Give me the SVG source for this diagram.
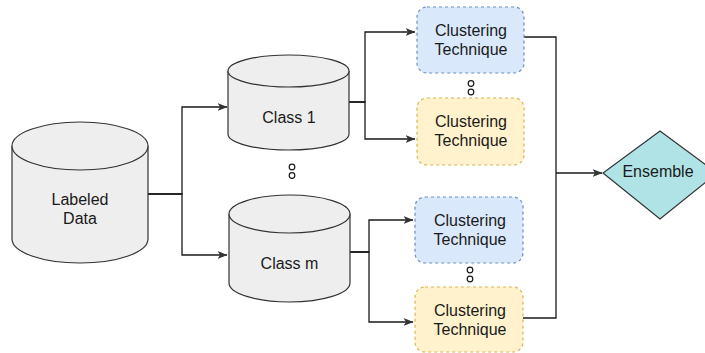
<svg xmlns="http://www.w3.org/2000/svg" width="705" height="353" viewBox="0 0 705 353">
  <style>
    .cyl { fill: #eeeeee; stroke: #333333; stroke-width: 1.2; }
    .blue { fill: #dae8fc; stroke: #6c8ebf; stroke-width: 1.2; stroke-dasharray: 3 3; }
    .yellow { fill: #fff2cc; stroke: #d6b656; stroke-width: 1.2; stroke-dasharray: 3 3; }
    .dia { fill: #b0e3e6; stroke: #333333; stroke-width: 1.2; }
    .lbl { font-family: "Liberation Sans", Arial, sans-serif; font-size: 16px; fill: #1a1a1a; text-anchor: middle; }
    .edge { fill: none; stroke: #1a1a1a; stroke-width: 1.3; }
    .dot { fill: #ffffff; stroke: #1a1a1a; stroke-width: 1.2; }
  </style>
  <defs>
    <marker id="arrow" viewBox="0 0 10 8" refX="9.5" refY="4" markerWidth="10" markerHeight="8" markerUnits="userSpaceOnUse" orient="auto">
      <path d="M0,0 L10,4 L0,8 L2.5,4 Z" fill="#333333"/>
    </marker>
  </defs>

  <rect width="705" height="353" fill="#ffffff"/>

  <!-- connectors -->
  <g id="edges">
    <path class="edge" d="M148,194 H182 V107 H227" marker-end="url(#arrow)"/>
    <path class="edge" d="M148,194 H182 V255 H227" marker-end="url(#arrow)"/>
    <path class="edge" d="M349,102 H365 V32 H415" marker-end="url(#arrow)"/>
    <path class="edge" d="M349,102 H365 V139 H415" marker-end="url(#arrow)"/>
    <path class="edge" d="M350,252 H369 V220 H413" marker-end="url(#arrow)"/>
    <path class="edge" d="M350,252 H369 V322 H413" marker-end="url(#arrow)"/>
    <path class="edge" d="M524,37 H556 V318 H523"/>
    <path class="edge" d="M556,173 H602" marker-end="url(#arrow)"/>
  </g>

  <!-- ellipsis markers -->
  <g id="dots">
    <circle class="dot" cx="292" cy="167" r="2.8"/>
    <circle class="dot" cx="292" cy="175.5" r="2.8"/>
    <circle class="dot" cx="471" cy="83.5" r="2.8"/>
    <circle class="dot" cx="471" cy="92" r="2.8"/>
    <circle class="dot" cx="470" cy="270" r="2.8"/>
    <circle class="dot" cx="470" cy="279" r="2.8"/>
  </g>

  <g id="labeled-data">
    <path class="cyl" d="M12,146 A68,24 0 0 1 148,146 V239 A68,24 0 0 1 12,239 Z"/>
    <path class="cyl" d="M12,146 A68,24 0 0 0 148,146" fill="none"/>
    <text class="lbl" x="80" y="205">Labeled</text>
    <text class="lbl" x="80" y="224">Data</text>
  </g>

  <g id="class-1">
    <path class="cyl" d="M228,71 A60.5,16 0 0 1 349,71 V134 A60.5,16 0 0 1 228,134 Z"/>
    <path class="cyl" d="M228,71 A60.5,16 0 0 0 349,71" fill="none"/>
    <text class="lbl" x="289" y="123">Class 1</text>
  </g>

  <g id="class-m">
    <path class="cyl" d="M229,214 A60.5,19 0 0 1 350,214 V283 A60.5,19 0 0 1 229,283 Z"/>
    <path class="cyl" d="M229,214 A60.5,19 0 0 0 350,214" fill="none"/>
    <text class="lbl" x="289.5" y="269">Class m</text>
  </g>

  <g id="cluster-1a">
    <rect class="blue" x="417" y="7" width="107" height="66" rx="10"/>
    <text class="lbl" x="471" y="36">Clustering</text>
    <text class="lbl" x="471" y="55">Technique</text>
  </g>

  <g id="cluster-1b">
    <rect class="yellow" x="417" y="98" width="107" height="67" rx="10"/>
    <text class="lbl" x="471" y="127">Clustering</text>
    <text class="lbl" x="471" y="146">Technique</text>
  </g>

  <g id="cluster-ma">
    <rect class="blue" x="415" y="197" width="108" height="66" rx="10"/>
    <text class="lbl" x="470" y="226">Clustering</text>
    <text class="lbl" x="470" y="245">Technique</text>
  </g>

  <g id="cluster-mb">
    <rect class="yellow" x="415" y="287" width="108" height="65" rx="10"/>
    <text class="lbl" x="470" y="316">Clustering</text>
    <text class="lbl" x="470" y="335">Technique</text>
  </g>

  <g id="ensemble">
    <path class="dia" d="M660,131 L717,173 L660,219 L603,173 Z"/>
    <text class="lbl" x="658" y="177">Ensemble</text>
  </g>
</svg>
